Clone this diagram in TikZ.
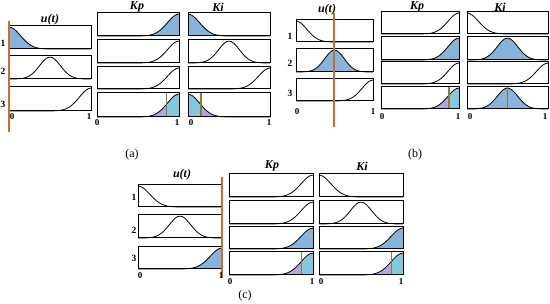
\documentclass[tikz,border=0pt]{standalone}
\usepackage{fontspec}
\setmainfont{Liberation Serif}
\usetikzlibrary{positioning}
\definecolor{mfblue}{RGB}{134,180,220}
\definecolor{mfcyan}{RGB}{130,200,224}
\definecolor{mfviolet}{RGB}{176,166,226}
\definecolor{cutline}{RGB}{204,110,40}
\definecolor{cutolive}{RGB}{150,122,40}

\tikzset{
  declare function={zmf(\t)=exp(-(\t/0.2)^2); gmf(\t)=exp(-((\t-0.5)/0.18)^2); smf(\t)=exp(-((\t-1)/0.2)^2);},
  mfframe/.style={draw=black, line width=1pt},
  mfline/.style={black, line width=0.8pt},
  cut/.style={cutline, line width=1.1pt},
  outcut/.style={cutolive, line width=1.3pt},
  head/.style={font=\fontsize{12}{12}\selectfont\bfseries\itshape},
  rowlab/.style={font=\fontsize{9.5}{9.5}\selectfont\bfseries},
  ticklab/.style={font=\fontsize{9}{9}\selectfont\bfseries},
  caplab/.style={font=\fontsize{12}{12}\selectfont},
}

% membership box: x0, y0 (top), x1, y1 (bottom), function, fill
\newcommand{\mfpanel}[6]{%
  \begin{scope}[shift={(#1,#4)}, xscale={#3-#1}, yscale={#2-#4}]
    \fill[fill=#6] plot[domain=0:1,samples=60] (\x,{0.95*#5(\x)}) -- (1,0) -- (0,0) -- cycle;
    \draw[mfline] plot[domain=0:1,samples=60] (\x,{0.95*#5(\x)});
    \draw[mfframe] (0,0) rectangle (1,1);
  \end{scope}}
% output box: cut at #6, fill left #7, fill right #8
\newcommand{\mfout}[8]{%
  \begin{scope}[shift={(#1,#4)}, xscale={#3-#1}, yscale={#2-#4}]
    \begin{scope}
      \clip (0,0) rectangle (#6,1);
      \fill[fill=#7] plot[domain=0:1,samples=60] (\x,{0.95*#5(\x)}) -- (1,0) -- (0,0) -- cycle;
    \end{scope}
    \begin{scope}
      \clip (#6,0) rectangle (1,1);
      \fill[fill=#8] plot[domain=0:1,samples=60] (\x,{0.95*#5(\x)}) -- (1,0) -- (0,0) -- cycle;
    \end{scope}
    \draw[mfline] plot[domain=0:1,samples=60] (\x,{0.95*#5(\x)});
    \draw[outcut] (#6,0) -- (#6,1);
    \draw[mfframe] (0,0) rectangle (1,1);
  \end{scope}}

\begin{document}
\begin{tikzpicture}[x=1pt, y=-1pt]
\useasboundingbox (0,0) rectangle (550,304);

% Panel (a)
\foreach \ya/\yb/\f/\c in {26/49/zmf/mfblue, 56/79/gmf/white, 87/111/smf/white}
  \mfpanel{9}{\ya}{91}{\yb}{\f}{\c};
\foreach \ya/\yb/\f/\c in {13/36/smf/mfblue, 40/63/smf/white, 67/89/smf/white}
  \mfpanel{97}{\ya}{179}{\yb}{\f}{\c};
\foreach \ya/\yb/\f/\c in {13/36/zmf/mfblue, 40/63/gmf/white, 67/89/smf/white}
  \mfpanel{188}{\ya}{270}{\yb}{\f}{\c};
\mfout{97}{93}{179}{117}{smf}{0.85}{mfviolet}{mfcyan}
\mfout{188}{93}{270}{117}{zmf}{0.16}{mfcyan}{mfviolet}
\draw[cut] (9,21) -- (9,132);
\node[head] (ua) at (50,20) {u(t)};
\node[head] (kpa) at (137,7) {Kp};
\node[head] (kia) at (218,7) {Ki};
\foreach \n/\y in {1/43, 2/71, 3/104}
  \node[rowlab] (ra\n) at (3,\y) {\n};
\node[ticklab] (ua0) at (12,117) {0};
\node[ticklab] (ua1) at (89,117) {1};
\node[ticklab] (kpa0) at (97,123) {0};
\node[ticklab] (kpa1) at (177,123) {1};
\node[ticklab] (kia0) at (191,123) {0};
\node[ticklab] (kia1) at (269,123) {1};
\node[caplab] (capa) at (132,155) {(a)};

% Panel (b)
\foreach \ya/\yb/\f/\c in {20/42/zmf/white, 49/72/gmf/mfblue, 79/101/smf/white}
  \mfpanel{296}{\ya}{373}{\yb}{\f}{\c};
\foreach \ya/\yb/\f/\c in {12/34/smf/white, 37/60/smf/mfblue, 62/84/smf/white}
  \mfpanel{381}{\ya}{459}{\yb}{\f}{\c};
\foreach \ya/\yb/\f/\c in {12/34/zmf/white, 37/60/gmf/mfblue, 62/84/smf/white}
  \mfpanel{467}{\ya}{548}{\yb}{\f}{\c};
\mfout{381}{87}{459}{109}{smf}{0.87}{mfviolet}{mfcyan}
\mfout{467}{87}{548}{109}{gmf}{0.5}{mfblue}{mfblue}
\draw[cut] (334,13) -- (334,127);
\node[head] (ub) at (327,10) {u(t)};
\node[head] (kpb) at (417,7) {Kp};
\node[head] (kib) at (500,7) {Ki};
\foreach \n/\y in {1/36, 2/63, 3/93}
  \node[rowlab] (rb\n) at (290,\y) {\n};
\node[ticklab] (ub0) at (297,112) {0};
\node[ticklab] (ub1) at (373,112) {1};
\node[ticklab] (kpb0) at (382,117) {0};
\node[ticklab] (kpb1) at (458,117) {1};
\node[ticklab] (kib0) at (470,117) {0};
\node[ticklab] (kib1) at (545,117) {1};
\node[caplab] (capb) at (415,155) {(b)};

% Panel (c)
\foreach \ya/\yb/\f/\c in {185/207/zmf/white, 215/238/gmf/white, 247/269/smf/mfblue}
  \mfpanel{138}{\ya}{222}{\yb}{\f}{\c};
\foreach \ya/\yb/\f/\c in {174/197/smf/white, 201/224/smf/white, 227/249/smf/mfblue}
  \mfpanel{229}{\ya}{313}{\yb}{\f}{\c};
\foreach \ya/\yb/\f/\c in {174/197/zmf/white, 201/224/gmf/white, 227/249/smf/mfblue}
  \mfpanel{319}{\ya}{403}{\yb}{\f}{\c};
\mfout{229}{252}{313}{275}{smf}{0.86}{mfviolet}{mfcyan}
\mfout{319}{252}{403}{275}{smf}{0.86}{mfviolet}{mfcyan}
\draw[cut] (222,177) -- (222,278);
\node[head] (uc) at (182,175) {u(t)};
\node[head] (kpc) at (272,166) {Kp};
\node[head] (kic) at (362,166) {Ki};
\foreach \n/\y in {1/197, 2/230, 3/258}
  \node[rowlab] (rc\n) at (134,\y) {\n};
\node[ticklab] (uc0) at (140,276) {0};
\node[ticklab] (uc1) at (221,276) {1};
\node[ticklab] (kpc0) at (230,282) {0};
\node[ticklab] (kpc1) at (312,282) {1};
\node[ticklab] (kic0) at (321,282) {0};
\node[ticklab] (kic1) at (401,282) {1};
\node[caplab] (capc) at (245,296) {(c)};
\end{tikzpicture}
\end{document}
